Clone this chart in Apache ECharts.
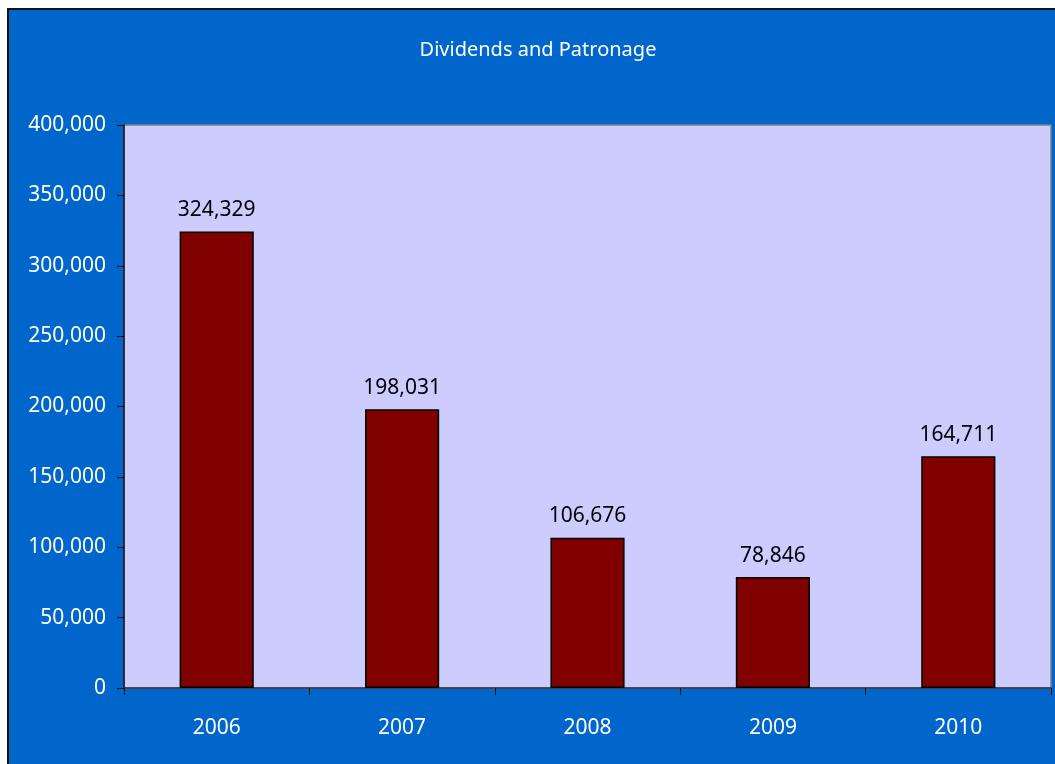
<!DOCTYPE html>
<html>
<head>
<meta charset="utf-8">
<title>Dividends and Patronage</title>
<script src="https://cdn.jsdelivr.net/npm/echarts@6/dist/echarts.min.js"></script>
<style>
  html, body { margin: 0; padding: 0; background: #fff; overflow: hidden; }
  #chart {
    position: absolute;
    left: 7px;
    top: 8px;
    width: 1046px;
    height: 754px;
    border-left: 2px solid #111;
    border-top: 2px solid #111;
  }
</style>
</head>
<body>
<div id="chart"></div>
<script>
// data
const years = ["2006", "2007", "2008", "2009", "2010"];
const dividends = [324329, 198031, 106676, 78846, 164711];

const fmt = v => Number(v).toLocaleString("en-US");

let myChart = echarts.init(document.getElementById("chart"));
myChart.setOption({
  backgroundColor: "#0066CC",
  textStyle: {
    fontFamily: "Noto Sans"
  },
  title: {
    text: "Dividends and Patronage",
    left: 524,
    textAlign: "center",
    top: 25,
    textStyle: {
      color: "#fff",
      fontSize: 20,
      fontWeight: "normal",
      fontFamily: "Noto Sans"
    }
  },
  grid: {
    left: 115,
    right: 4,
    top: 115,
    bottom: 76,
    show: true,
    backgroundColor: "#CCCCFF",
    borderColor: "#808080",
    borderWidth: 1.5
  },
  xAxis: {
    type: "category",
    data: years,
    boundaryGap: true,
    axisLine: {
      lineStyle: {
        color: "#333",
        width: 1.5
      }
    },
    axisTick: {
      show: true,
      alignWithLabel: false,
      length: 7,
      lineStyle: {
        color: "#111"
      }
    },
    axisLabel: {
      color: "#fff",
      fontSize: 21,
      margin: 30
    }
  },
  yAxis: {
    type: "value",
    min: 0,
    max: 400000,
    interval: 50000,
    splitLine: {
      show: false
    },
    axisLine: {
      show: true,
      lineStyle: {
        color: "#111",
        width: 1.5
      }
    },
    axisTick: {
      show: true,
      length: 7,
      lineStyle: {
        color: "#111"
      }
    },
    axisLabel: {
      color: "#fff",
      fontSize: 21,
      margin: 18,
      formatter: fmt
    }
  },
  series: [
    {
      name: "Dividends and Patronage",
      type: "bar",
      data: dividends,
      barWidth: "40%",
      itemStyle: {
        color: "#800000",
        borderColor: "#000",
        borderWidth: 1.5
      },
      label: {
        show: true,
        position: "top",
        distance: 11,
        color: "#000",
        fontSize: 21,
        formatter: p => fmt(p.value)
      }
    }
  ]
});
</script>
</body>
</html>
